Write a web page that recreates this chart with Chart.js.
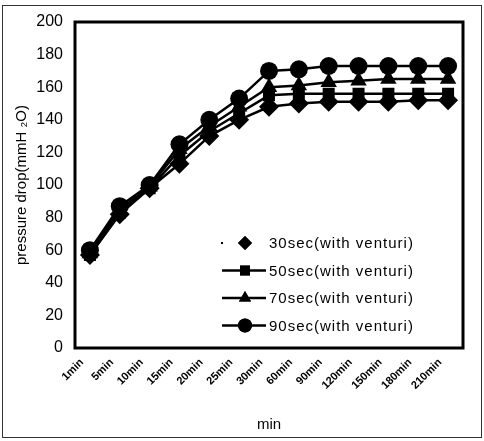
<!DOCTYPE html>
<html>
<head>
<meta charset="utf-8">
<script src="https://cdn.jsdelivr.net/npm/chart.js@4/dist/chart.umd.min.js"></script>
<style>
  html, body { margin: 0; padding: 0; background: #fff; }
  #wrap { position: relative; width: 484px; height: 441px; }
  #frame { position: absolute; left: 2px; top: 5px; width: 478px; height: 431px; border: 1px solid #333; pointer-events: none; }
</style>
</head>
<body>
<div id="wrap">
  <canvas id="chart" width="484" height="441"></canvas>
  <div id="frame"></div>
</div>
<script>
// data
const categories = ['1min', '5min', '10min', '15min', '20min', '25min', '30min', '60min', '90min', '120min', '150min', '180min', '210min'];
const sec30 = [57, 82, 98, 113, 130, 140, 148, 150, 151, 151, 151, 152, 152];
const sec50 = [57, 83, 98, 118, 133, 144, 155, 156, 156, 156, 156, 156, 156];
const sec70 = [58, 85, 99, 122, 136, 148, 160, 161, 163, 164, 165, 165, 165];
const sec90 = [60, 87, 100, 125, 140, 153, 170, 171, 173, 173, 173, 173, 173];
const yTicks = [0, 20, 40, 60, 80, 100, 120, 140, 160, 180, 200];

const seriesNames = ['30sec(with venturi)', '50sec(with venturi)', '70sec(with venturi)', '90sec(with venturi)'];
const pointStyles = ['rectRot', 'rect', 'triangle', 'circle'];
const pointSizes = [10, 8.5, 9.5, 9];
const font = '"Liberation Sans", Arial, sans-serif';

function makeSet(i, values) {
    return {
        label: seriesNames[i],
        data: values,
        borderColor: '#000',
        backgroundColor: '#000',
        borderWidth: 2.5,
        pointStyle: pointStyles[i],
        pointRadius: pointSizes[i],
        pointBorderWidth: 0,
        pointBackgroundColor: '#000'
    };
}

// plot frame + in-plot legend
const framePlugin = {
    id: 'framePlugin',
    afterDraw(chart) {
        const ctx = chart.ctx;
        const a = chart.chartArea;
        ctx.save();
        ctx.strokeStyle = '#000';
        ctx.lineWidth = 3;
        ctx.strokeRect(a.left, a.top, a.right - a.left, a.bottom - a.top);

        const x0 = a.left + 147;
        const y0 = a.top + 221;
        const step = 27.5;
        ctx.font = '15px ' + font;
        ctx.letterSpacing = '1px';
        ctx.textBaseline = 'middle';
        ctx.fillStyle = '#000';
        chart.data.datasets.forEach((ds, i) => {
            const y = y0 + i * step;
            const mx = x0 + 23;
            if (i === 0) {
                ctx.fillRect(x0 - 1, y - 1, 2, 2);
            } else {
                ctx.lineWidth = 2.5;
                ctx.beginPath();
                ctx.moveTo(x0, y);
                ctx.lineTo(x0 + 44, y);
                ctx.stroke();
            }
            Chart.helpers.drawPoint(ctx, {pointStyle: ds.pointStyle, radius: 7, borderWidth: 0}, mx, y);
            ctx.fill();
            ctx.fillText(ds.label, x0 + 47, y + 1);
        });
        ctx.restore();
    }
};

new Chart(document.getElementById('chart'), {
    type: 'line',
    data: {
        labels: categories,
        datasets: [makeSet(0, sec30), makeSet(1, sec50), makeSet(2, sec70), makeSet(3, sec90)]
    },
    options: {
        responsive: false,
        animation: false,
        layout: { padding: { left: 0, top: 22, right: 21, bottom: 0 } },
        plugins: {
            legend: { display: false },
            tooltip: { enabled: false }
        },
        scales: {
            x: {
                offset: true,
                grid: { display: false, drawTicks: false },
                border: { display: false },
                ticks: {
                    color: '#000',
                    font: { family: font, size: 11, weight: 'bold' },
                    minRotation: 45,
                    maxRotation: 45,
                    padding: 8,
                    labelOffset: -8,
                    autoSkip: false
                },
                title: {
                    display: true,
                    text: 'min',
                    color: '#000',
                    font: { family: font, size: 15 },
                    padding: { top: 0, bottom: 7 }
                },
                afterFit(scale) { scale.height = 93; }
            },
            y: {
                min: 0,
                max: 200,
                afterBuildTicks(scale) { scale.ticks = yTicks.map(v => ({ value: v })); },
                grid: { display: false, drawTicks: false },
                border: { display: false },
                ticks: {
                    color: '#000',
                    font: { family: font, size: 16 },
                    padding: 12
                },
                title: {
                    display: true,
                    text: 'pressure drop(mmH ₂O)',
                    color: '#000',
                    font: { family: font, size: 15 },
                    padding: { top: 13, bottom: 0 }
                },
                afterFit(scale) { scale.width = 75; }
            }
        }
    },
    plugins: [framePlugin]
});
</script>
</body>
</html>
